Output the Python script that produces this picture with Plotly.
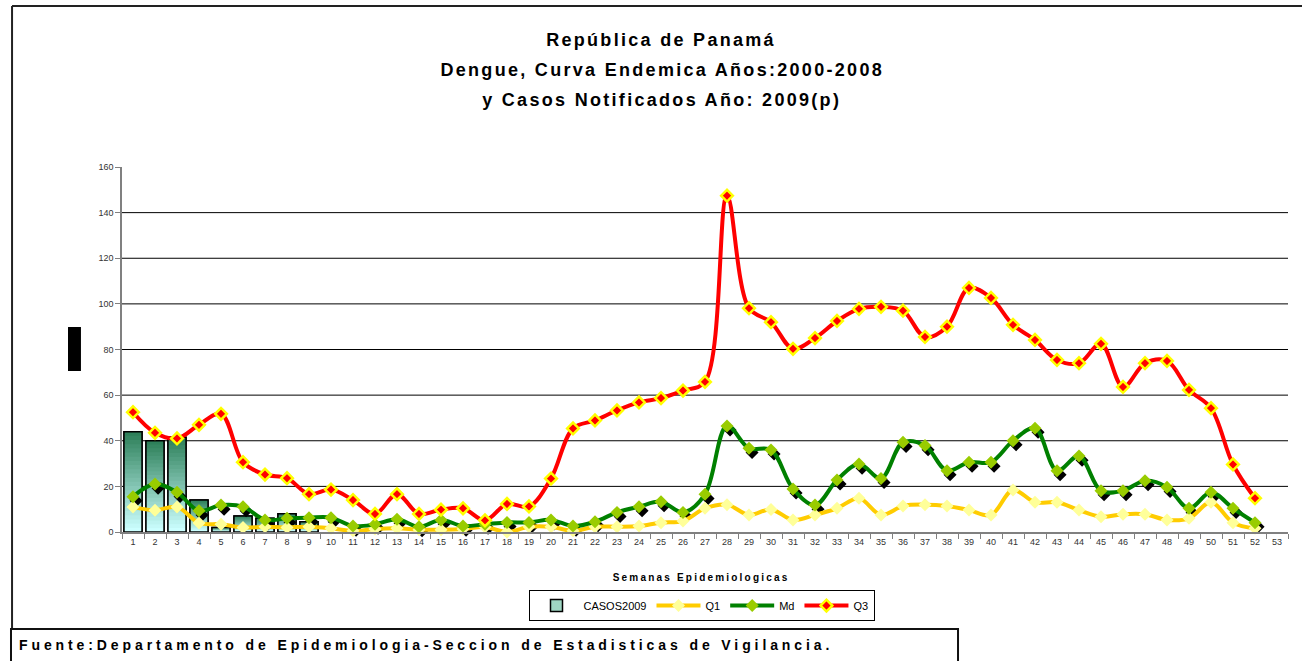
import plotly.graph_objects as go

weeks = [str(i) for i in range(1, 54)]
data_weeks = weeks[:52]
casos_weeks = weeks[:9]

casos2009 = [44, 40, 41.5, 14, 2, 7, 6, 8, 4.5]

q1 = [11, 9.5, 11, 4, 3.4, 2, 2.3, 2, 2.3, 1.6,
      0.5, 1.3, 1.6, 1, 1, 1.3, 2.2, 0, 2.3, 2.3,
      0.5, 2.3, 2.3, 2.6, 4.1, 4.8, 10.4, 12, 7.5, 9.9,
      5.3, 7.5, 10.4, 14.8, 7.5, 11.4, 12, 11.4, 9.6, 7.5,
      18.4, 13, 13, 9.6, 6.7, 7.8, 7.8, 5.3, 6, 13,
      4.1, 1.6]

md = [15.5, 21, 17.4, 9.3, 11.8, 11.1, 5.3, 6, 6.3, 6.3,
      2.6, 3.4, 5.6, 2.3, 5.3, 2.6, 3.4, 4.2, 4.2, 5.3,
      2.6, 4.5, 8.6, 11.1, 13.3, 8.6, 16.5, 46.5, 36.7, 36,
      18.9, 11.8, 22.8, 29.8, 23.5, 39.3, 37.9, 26.9, 30.6, 30.6,
      40, 45.5, 26.9, 33.3, 18.1, 18.1, 22.5, 19.6, 10.4, 17.4,
      10.4, 4.1]

q3 = [52.5, 43.5, 41, 47, 51.8, 30.6, 25.2, 23.6, 16.6, 18.6,
      14, 7.9, 16.6, 7.9, 9.8, 10.4, 5.1, 12.3, 11.2, 23.4,
      45.4, 48.9, 53.3, 56.8, 58.7, 62, 65.8, 147.4, 98.1, 92,
      80.3, 85, 92.5, 97.8, 98.7, 97, 85.5, 90, 107, 102.6,
      90.8, 84.2, 75.4, 74, 82.5, 63.6, 74, 75, 62.3, 54.3,
      29.6, 14.8]

y_ticks = [0, 20, 40, 60, 80, 100, 120, 140, 160]
grid_vals = [20, 40, 60, 80, 100, 120, 140]

FONT = "Arial, Liberation Sans, sans-serif"

fig = go.Figure()

# legend swatch / base bar
fig.add_trace(go.Bar(x=casos_weeks, y=casos2009, name="CASOS2009",
                     marker=dict(color="#9fd6c3", line=dict(color="black", width=1.5)),
                     width=0.82, showlegend=True, hoverinfo="skip"))

# gradient bands (dark top to pale bottom)
N = 24
c_top = (46, 128, 90)
c_bot = (204, 255, 255)
for k in range(N):
    t = k / (N - 1)
    col = tuple(int(round(c_top[i] + (c_bot[i] - c_top[i]) * t)) for i in range(3))
    f = 1 - k / N
    fig.add_trace(go.Bar(x=casos_weeks, y=[v * f for v in casos2009],
                         marker=dict(color="rgb(%d,%d,%d)" % col, line=dict(width=0)),
                         width=0.82, showlegend=False, hoverinfo="skip"))

# outline on top
fig.add_trace(go.Bar(x=casos_weeks, y=casos2009,
                     marker=dict(color="rgba(0,0,0,0)", line=dict(color="black", width=1.5)),
                     width=0.82, showlegend=False, hoverinfo="skip"))

# shadow of Md markers
fig.add_trace(go.Scatter(x=data_weeks, y=md, mode="markers", xaxis="x2", yaxis="y2",
                         marker=dict(symbol="diamond", size=10, color="black"),
                         showlegend=False, hoverinfo="skip", cliponaxis=False))

line_kw = dict(shape="spline", smoothing=1, width=4)
fig.add_trace(go.Scatter(x=data_weeks, y=q1, name="Q1", mode="lines+markers",
                         xaxis="x3", yaxis="y3",
                         line=dict(color="#FFCC00", **line_kw),
                         marker=dict(symbol="diamond", size=10, color="#FFFF99"),
                         cliponaxis=False))
fig.add_trace(go.Scatter(x=data_weeks, y=md, name="Md", mode="lines+markers",
                         xaxis="x3", yaxis="y3",
                         line=dict(color="#008000", **line_kw),
                         marker=dict(symbol="diamond", size=10, color="#99CC00"),
                         cliponaxis=False))
fig.add_trace(go.Scatter(x=data_weeks, y=q3, name="Q3", mode="lines+markers",
                         xaxis="x3", yaxis="y3",
                         line=dict(color="#FF0000", **line_kw),
                         marker=dict(symbol="diamond", size=9, color="#FF0000",
                                     line=dict(color="#FFFF00", width=2.5)),
                         cliponaxis=False))

shift_x = 0.14
shift_y = 1.8
hidden = dict(visible=False, showgrid=False, zeroline=False)

fig.update_layout(
    width=1302, height=661,
    margin=dict(l=122, r=14, t=167, b=129),
    paper_bgcolor="white", plot_bgcolor="white",
    barmode="overlay", bargap=0.15,
    font=dict(family=FONT, color="black"),
    showlegend=True,
    legend=dict(orientation="h", x=0.497, xanchor="center", y=-0.159, yanchor="top",
                bordercolor="black", borderwidth=1, bgcolor="white",
                font=dict(size=11, family=FONT, color="black"),
                itemwidth=44, tracegroupgap=0),
    xaxis=dict(type="category", categoryorder="array", categoryarray=weeks,
               range=[-0.5, 52.5], tickson="boundaries", ticks="outside", ticklen=5,
               tickcolor="#808080", showline=True, linecolor="#808080", linewidth=1.5,
               showgrid=False, zeroline=False,
               tickfont=dict(size=9, color="#333333", family=FONT)),
    yaxis=dict(range=[0, 160], tickvals=y_ticks, ticks="outside", ticklen=5,
               tickcolor="#808080", showline=True, linecolor="#808080", linewidth=1.5,
               showgrid=False, zeroline=False,
               tickfont=dict(size=9, color="#333333", family=FONT)),
    xaxis2=dict(type="category", categoryorder="array", categoryarray=weeks,
                overlaying="x", range=[-0.5 - shift_x, 52.5 - shift_x], **hidden),
    yaxis2=dict(overlaying="y", range=[shift_y, 160 + shift_y], **hidden),
    xaxis3=dict(type="category", categoryorder="array", categoryarray=weeks,
                overlaying="x", range=[-0.5, 52.5], **hidden),
    yaxis3=dict(overlaying="y", range=[0, 160], **hidden),
)

shapes = []
for g in grid_vals:
    shapes.append(dict(type="line", xref="paper", yref="y", x0=0, x1=1, y0=g, y1=g,
                       line=dict(color="black", width=1), layer="below"))
# outer chart frame: left and top edges
shapes.append(dict(type="line", xref="paper", yref="paper",
                   x0=-0.0943, x1=-0.0943, y0=-0.266, y1=1.441,
                   line=dict(color="#222222", width=2), layer="below"))
shapes.append(dict(type="line", xref="paper", yref="paper",
                   x0=-0.0943, x1=1.1, y0=1.441, y1=1.441,
                   line=dict(color="#222222", width=2), layer="below"))
# y-axis title rendered as black box
shapes.append(dict(type="rect", xref="paper", yref="paper",
                   x0=-0.0463, x1=-0.0352, y0=0.4411, y1=0.5616,
                   line=dict(width=0), fillcolor="black"))
# footer box
shapes.append(dict(type="rect", xref="paper", yref="paper",
                   x0=-0.0952, x1=0.717, y0=-0.37, y1=-0.266,
                   line=dict(color="#111111", width=2), fillcolor="white"))
fig.update_layout(shapes=shapes)

title_lines = ["República de Panamá",
               "Dengue, Curva Endemica Años:2000-2008",
               "y Casos Notificados Año: 2009(p)"]
title_y = [1.348, 1.266, 1.184]
annotations = []
for txt, yy in zip(title_lines, title_y):
    annotations.append(dict(text="<b>%s</b>" % txt, x=0.463, y=yy, xref="paper", yref="paper",
                            xanchor="center", yanchor="middle", showarrow=False,
                            font=dict(size=18, family=FONT, color="black")))
annotations.append(dict(text="<b>Semanas Epidemiologicas</b>", x=0.497, y=-0.126,
                        xref="paper", yref="paper", xanchor="center", yanchor="middle",
                        showarrow=False, font=dict(size=10, family=FONT, color="black")))
annotations.append(dict(text="<b>Fuente:Departamento de Epidemiologia-Seccion de Estadisticas de Vigilancia.</b>",
                        x=-0.090, y=-0.3096, xref="paper", yref="paper",
                        xanchor="left", yanchor="middle", align="left", showarrow=False,
                        font=dict(size=14, family=FONT, color="black")))
fig.update_layout(annotations=annotations)

post = """
document.body.style.margin = '0';
document.body.style.overflow = 'hidden';
var gd = document.getElementById('{plot_id}');
function spaceText() {
  var ts = gd.querySelectorAll('.annotation-text');
  ts.forEach(function (t) {
    var s = t.textContent;
    if (s.indexOf('Fuente') === 0) {
      t.style.letterSpacing = '3.9px';
      t.setAttribute('text-anchor', 'start');
    }
    else if (s.indexOf('Semanas') === 0) { t.style.letterSpacing = '2.2px'; }
    else { t.style.letterSpacing = '2.3px'; }
  });
}
spaceText();
if (gd.on) { gd.on('plotly_afterplot', spaceText); }
"""

fig.write_html("out.html", post_script=post, config={"displayModeBar": False})
